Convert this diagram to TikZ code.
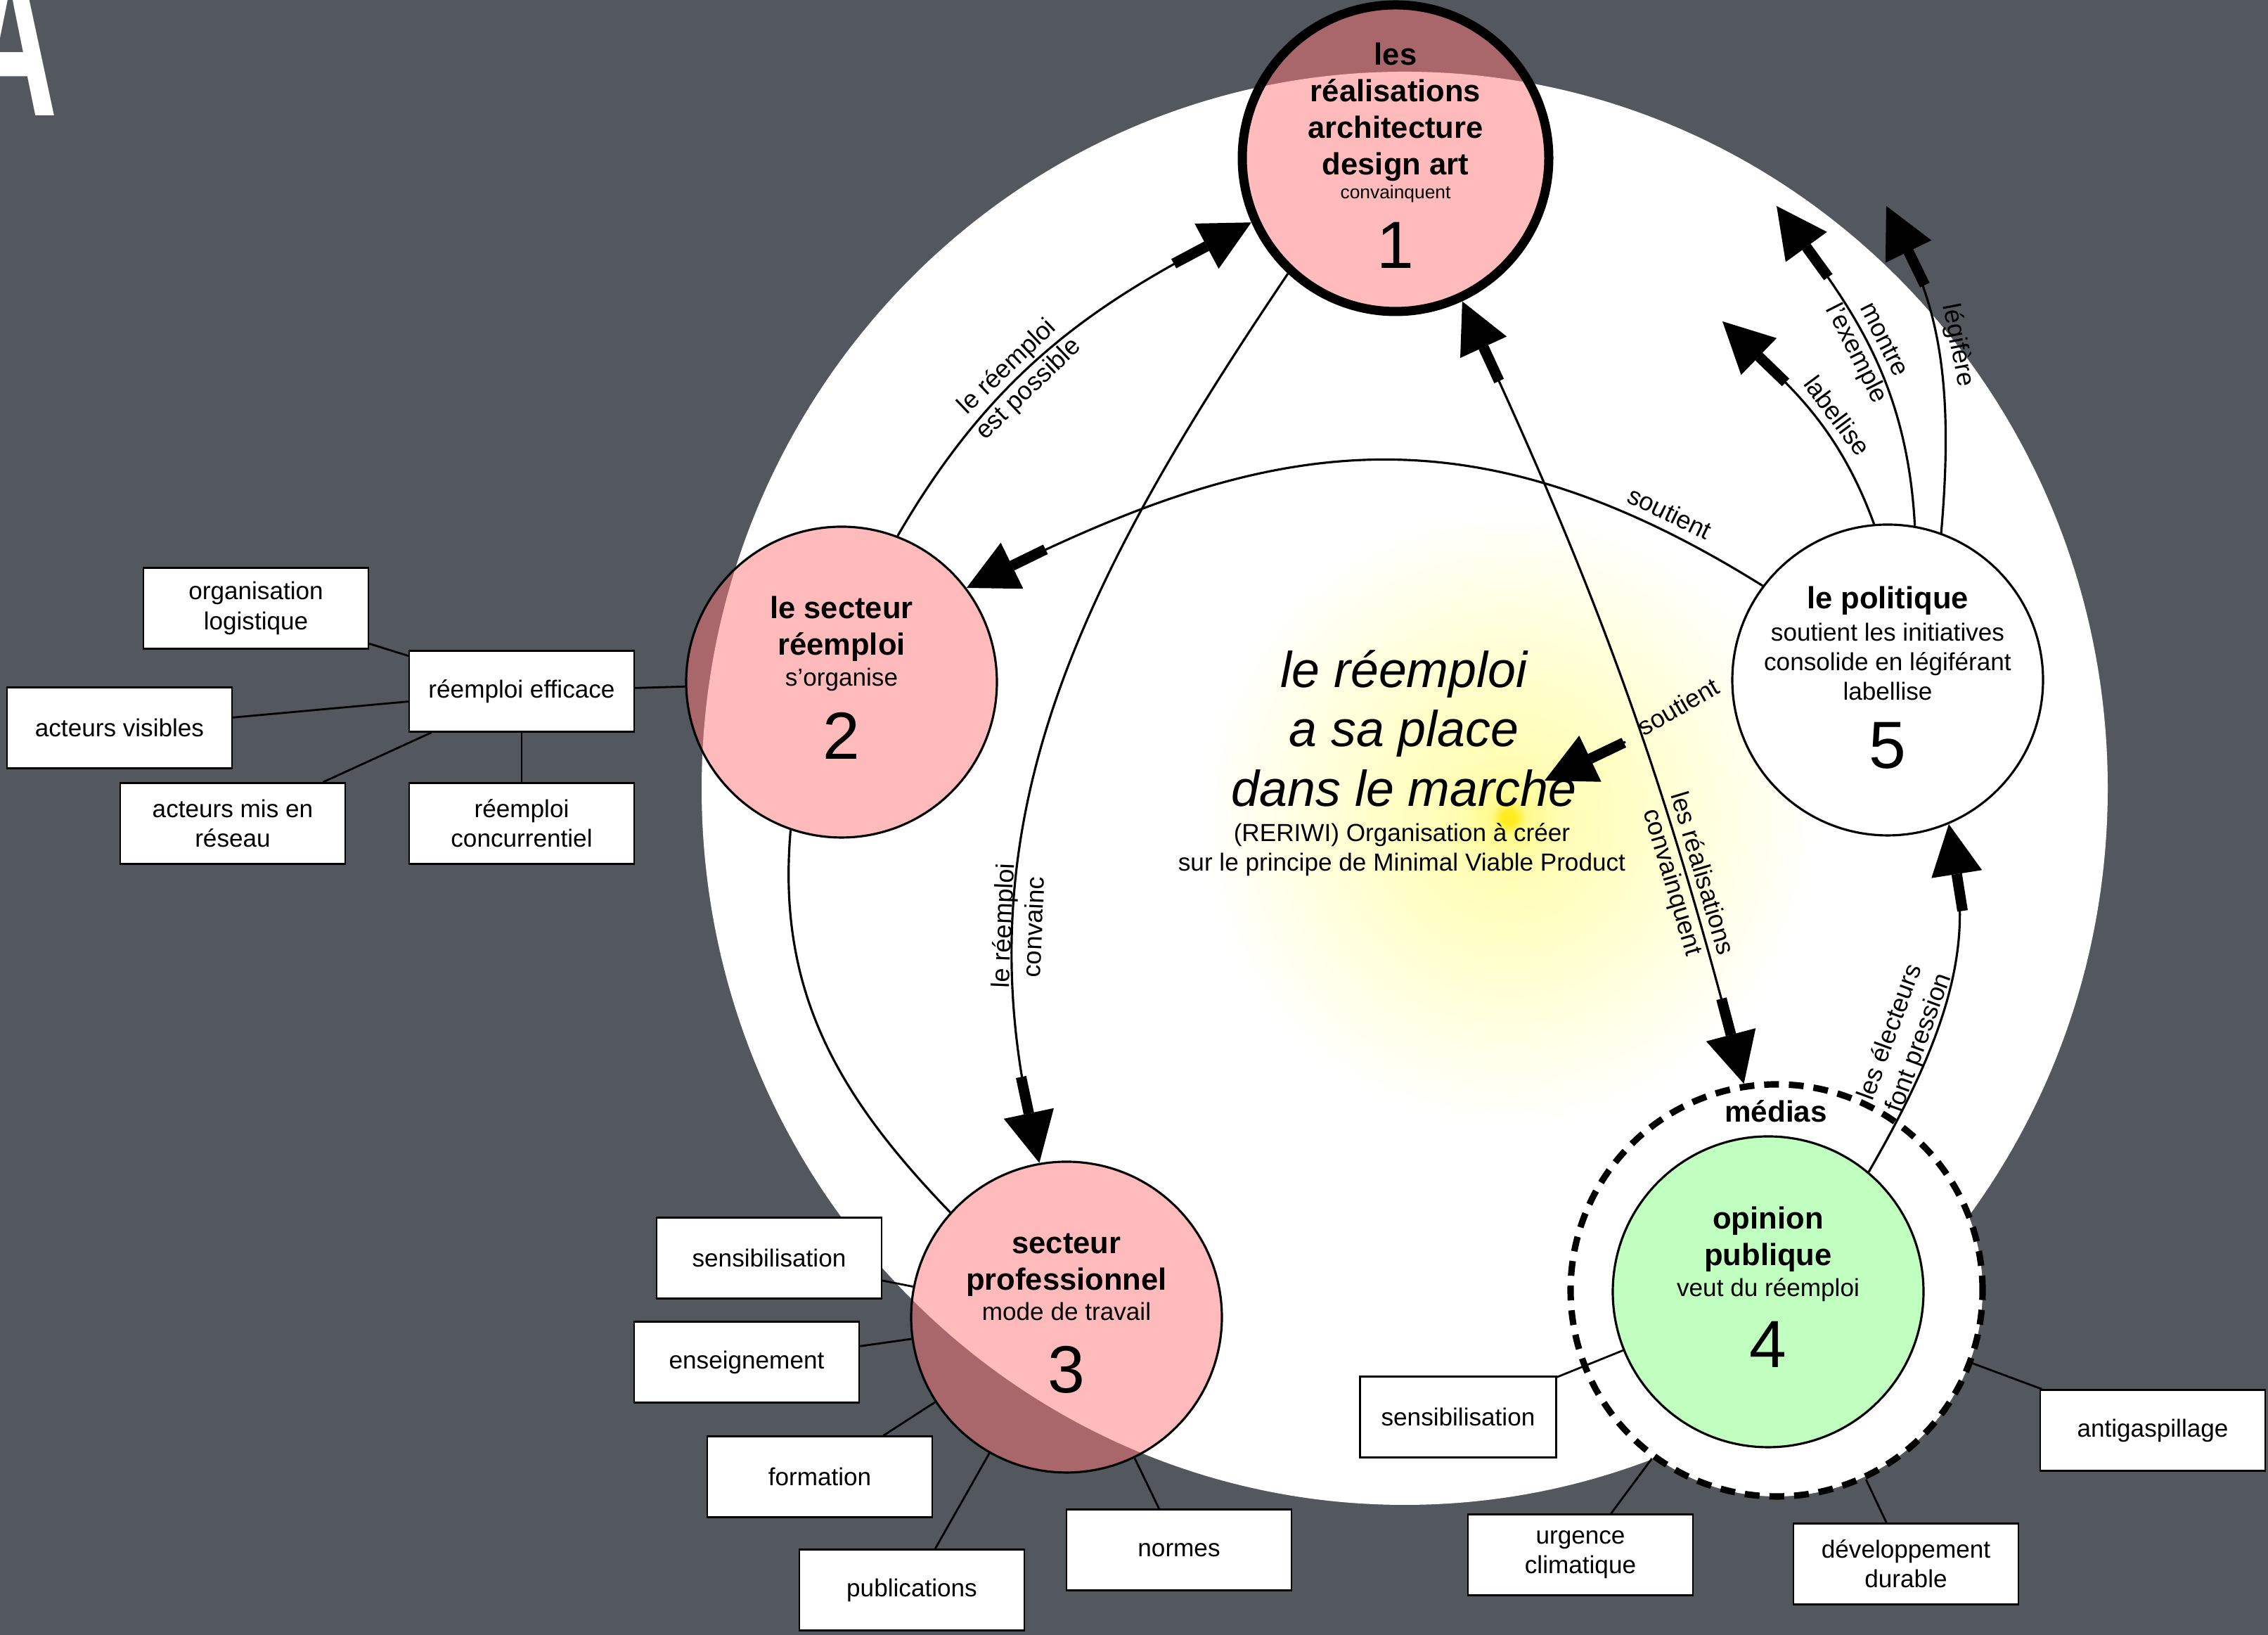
\documentclass[tikz,border=0pt]{standalone}
\usepackage{fontspec}
\setmainfont{Liberation Sans}
\usetikzlibrary{arrows.meta}
\definecolor{slate}{HTML}{53575E}
\definecolor{rose}{RGB}{255,120,120}
\definecolor{mint}{HTML}{C0FFC0}
\definecolor{glowcore}{RGB}{255,235,30}
\definecolor{glowmid}{RGB}{255,250,140}
\definecolor{glowpale}{RGB}{255,253,178}
\definecolor{glowhaze}{RGB}{255,254,203}
\definecolor{glowedge}{RGB}{255,255,230}
% glow at its own size: 125bp is about 4.4cm
\pgfdeclareradialshading{glow}{\pgfpointorigin}{%
  color(0bp)=(glowcore); color(2.5bp)=(glowcore);
  color(7bp)=(glowmid); color(20bp)=(glowpale);
  color(55bp)=(glowhaze); color(90bp)=(glowedge);
  color(125bp)=(white)}
\tikzset{
  hub/.style={circle,draw,line width=0.9pt,minimum size=4.42cm,inner sep=0pt},
  pinkhub/.style={hub,fill=rose,fill opacity=0.5},
  hubtitle/.style={font=\bfseries\fontsize{12.4}{14.8}\selectfont,align=center},
  hubsub/.style={font=\fontsize{10}{12}\selectfont,align=center},
  hubnum/.style={font=\fontsize{27}{30}\selectfont},
  ring/.style={circle,draw,fill=white,line width=2.6pt,dash pattern=on 6pt off 4pt,
    minimum size=5.86cm,inner sep=0pt},
  tag/.style={draw,fill=white,line width=0.7pt,minimum width=3.2cm,
    minimum height=1.15cm,inner sep=0pt,align=center,font=\fontsize{10}{12}\selectfont},
  link/.style={line width=0.8pt},
  flow/.style={line width=0.9pt,
    -{Rectangle[length=0.53cm,width=0.15cm,sep=0pt]Triangle[length=0.72cm,width=0.72cm,sep=0pt]}},
  twoway/.style={line width=0.9pt,
    {Triangle[length=0.72cm,width=0.72cm,sep=0pt]Rectangle[length=0.53cm,width=0.15cm,sep=0pt]}-{Rectangle[length=0.53cm,width=0.15cm,sep=0pt]Triangle[length=0.72cm,width=0.72cm,sep=0pt]}},
  verb/.style={font=\fontsize{10.3}{12.5}\selectfont,align=center}
}

\begin{document}
\begin{tikzpicture}[x=1cm,y=1cm]

\useasboundingbox (0,0) rectangle (32.26,23.25);
\fill[slate] (0,0) rectangle (32.26,23.25);

% white field and the yellow glow in its middle
\fill[white] (19.98,12.04) ellipse [x radius=10.00,y radius=10.19];
\node[inner sep=0pt] (glow) at (21.46,11.62) {\pgfuseshading{glow}};

% big letter cut by the page corner
\node[anchor=base east,inner sep=0pt,xscale=0.59,text=white,
      font=\bfseries\fontsize{90}{90}\selectfont] (bigA) at (0.83,21.60) {A};

% central statement
\node[font=\itshape\fontsize{20.4}{24}\selectfont,align=center] (market)
  at (19.97,12.89) {le réemploi\\a sa place\\dans le marche};
\node[hubsub] (rerawi) at (19.94,11.17)
  {(RERIWI) Organisation à créer\\sur le principe de Minimal Viable Product};

% the five actors
\node[pinkhub,line width=3.7pt,minimum size=4.36cm] (n1) at (19.85,21.00) {};
\node[hubtitle] (n1title) at ([yshift=0.66cm]n1.center)
  {les\\réalisations\\architecture\\design art};
\node[hubsub,font=\fontsize{7.5}{9}\selectfont] (n1sub) at ([yshift=-0.51cm]n1.center) {convainquent};
\node[hubnum] (n1num) at ([yshift=-1.24cm]n1.center) {1};

\node[pinkhub] (n2) at (11.97,13.55) {};
\node[hubtitle] (n2title) at ([yshift=0.76cm]n2.center) {le secteur\\réemploi};
\node[hubsub] (n2sub) at ([yshift=0.04cm]n2.center) {s’organise};
\node[hubnum] (n2num) at ([yshift=-0.76cm]n2.center) {2};

\node[pinkhub] (n3) at (15.17,4.52) {};
\node[hubtitle] (n3title) at ([yshift=0.74cm]n3.center) {secteur\\professionnel};
\node[hubsub] (n3sub) at ([yshift=0.08cm]n3.center) {mode de travail};
\node[hubnum] (n3num) at ([yshift=-0.75cm]n3.center) {3};

\node[ring] (medias) at (25.27,4.90) {};
\node[font=\bfseries\fontsize{12}{14}\selectfont] (mediaslabel) at (25.26,7.45) {médias};
\node[hub,fill=mint] (n4) at (25.15,4.88) {};
\node[hubtitle] (n4title) at ([yshift=0.75cm]n4.center) {opinion\\publique};
\node[hubsub] (n4sub) at ([yshift=0.03cm]n4.center) {veut du réemploi};
\node[hubnum] (n4num) at ([yshift=-0.75cm]n4.center) {4};

\node[hub,fill=white] (n5) at (26.85,13.58) {};
\node[hubtitle] (n5title) at ([yshift=1.13cm]n5.center) {le politique};
\node[hubsub] (n5sub) at ([yshift=0.26cm]n5.center)
  {soutient les initiatives\\consolide en légiférant\\labellise};
\node[hubnum] (n5num) at ([yshift=-0.93cm]n5.center) {5};

% satellite topics
\foreach \name/\x/\y/\txt in {
  orglog/3.64/14.60/{organisation\\logistique},
  efficace/7.42/13.42/{réemploi efficace},
  visibles/1.70/12.90/{acteurs visibles},
  reseau/3.31/11.54/{acteurs mis en\\réseau},
  concurrent/7.42/11.54/{réemploi\\concurrentiel},
  sens3/10.94/5.36/{sensibilisation},
  enseign/10.62/3.88/{enseignement},
  formation/11.66/2.25/{formation},
  publis/12.97/0.64/{publications},
  normes/16.77/1.21/{normes},
  urgence/22.48/1.14/{urgence\\climatique},
  durable/27.11/1.01/{développement\\durable},
  antigasp/30.62/2.91/{antigaspillage}} {
  \node[tag] (\name) at (\x,\y) {\txt};
}
\node[tag,minimum width=2.79cm] (sens4) at (20.74,3.10) {sensibilisation};

\foreach \from/\dest in {orglog/efficace,visibles/efficace,reseau/efficace,
  concurrent/efficace,efficace/n2,sens3/n3,enseign/n3,formation/n3,publis/n3,
  normes/n3,sens4/n4,urgence/medias,durable/medias,antigasp/medias}
  \draw[link] (\from) -- (\dest);

% arrows between the actors
\draw[flow] (n2.69) to[out=60,in=208]
  node[verb,sloped,pos=0.41] (possible) {le réemploi\\est possible} (n1.204);
\draw[flow] (n1.-133) to[out=-124,in=102]
  node[verb,sloped,pos=0.76] (convainc) {le réemploi\\convainc} (n3.100);
\draw[flow] (n5.143) to[out=148,in=26,looseness=1.1]
  node[verb,sloped,above,pos=0.12] (soutient) {soutient} (n2.37);
\draw[twoway] (n1.-65) to[bend left=5]
  node[verb,sloped,pos=0.76] (convainquent) {les réalisations\\convainquent} (medias.99);
\draw[flow] (n4.50) to[out=60,in=-81]
  node[verb,sloped,above=-0.15cm,pos=0.37] (pression) {les électeurs\\font pression} (n5.-67);
\draw[link,line width=0.9pt] (n2.-109) to[out=-95,in=134] (n3.138);

% what the politics push out
\coordinate (labeltip) at (24.50,18.68);
\coordinate (exampletip) at (25.27,20.32);
\coordinate (lawtip) at (26.83,20.32);
\draw[flow] (n5.95) to[out=110,in=-44]
  node[verb,sloped,above,pos=0.43] (labellise) {labellise} (labeltip);
\draw[flow] (n5.80) to[out=93,in=-54]
  node[verb,sloped,pos=0.53] (exemple) {montre\\l’exemple} (exampletip);
\draw[flow] (n5.70) to[out=85,in=-64]
  node[verb,sloped,above,pos=0.55] (legifere) {légifère} (lawtip);

% short push towards the market
\coordinate (pushfrom) at (23.12,12.70);
\coordinate (pushto) at (21.97,12.15);
\draw[flow] (pushfrom) -- (pushto);
\node[verb,rotate=30] (soutient2) at (23.87,13.20) {soutient};

\end{tikzpicture}
\end{document}
